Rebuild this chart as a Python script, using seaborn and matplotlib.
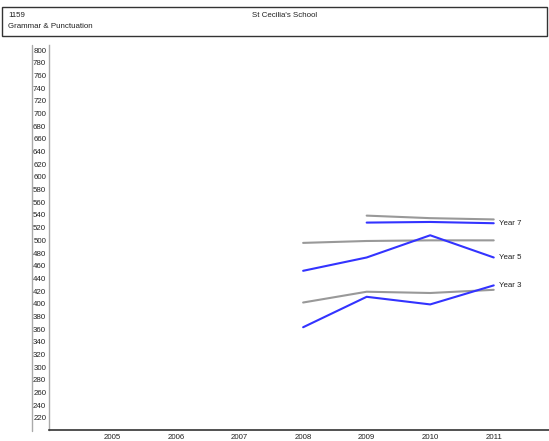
import matplotlib.pyplot as plt
import matplotlib.lines as mlines
import matplotlib.patches as mpatches
import pandas as pd
import seaborn as sns

# values
years = [2008, 2009, 2010, 2011]
school_y3 = [363, 411, 399, 429]
school_y5 = [452, 473, 508, 473]
school_y7 = [None, 528, 529, 527]
state_y3 = [402, 419, 417, 422]
state_y5 = [496, 499, 500, 500]
state_y7 = [None, 539, 535, 533]
labels = ['Year 3', 'Year 5', 'Year 7']
xticks = [2005, 2006, 2007, 2008, 2009, 2010, 2011]
yticks = list(range(220, 801, 20))

rows = []
for name, vals, kind in [('s3', school_y3, 'school'), ('s5', school_y5, 'school'), ('s7', school_y7, 'school'),
                         ('g3', state_y3, 'state'), ('g5', state_y5, 'state'), ('g7', state_y7, 'state')]:
    for yr, v in zip(years, vals):
        if v is not None:
            rows.append({'year': yr, 'score': v, 'series': name, 'kind': kind})
df = pd.DataFrame(rows)

sns.set_style('white')
plt.rcParams['font.family'] = ['Liberation Sans', 'DejaVu Sans']

fig = plt.figure(figsize=(5.49, 4.41), dpi=100)
ax = fig.add_axes([49 / 549, 11 / 441, 500 / 549, 385 / 441])

pal = {'s3': '#3333ff', 's5': '#3333ff', 's7': '#3333ff',
       'g3': '#999999', 'g5': '#999999', 'g7': '#999999'}
order = ['g3', 'g5', 'g7', 's3', 's5', 's7']
sns.lineplot(data=df, x='year', y='score', hue='series', hue_order=order,
             palette=pal, linewidth=1.5, legend=False, ax=ax)

# labels at the end of the school lines
for lab, vals in zip(labels, [school_y3, school_y5, school_y7]):
    ax.text(years[-1] + 0.08, vals[-1], lab, fontsize=5.7, va='center', ha='left', color='#222222')

ax.set_xlim(2004, 2011.87)
ax.set_ylim(201, 808)
ax.set_xticks(xticks)
ax.set_yticks(yticks)
ax.set_xlabel('')
ax.set_ylabel('')
ax.tick_params(axis='both', labelsize=5.7, colors='#222222')
ax.tick_params(axis='x', length=2, width=0.6, pad=1, direction='out', color='#555555')
ax.tick_params(axis='y', length=0, pad=2)
for s in ['top', 'right']:
    ax.spines[s].set_visible(False)
ax.spines['left'].set_color('#aaaaaa')
ax.spines['left'].set_linewidth(1)
ax.spines['bottom'].set_color('#333333')
ax.spines['bottom'].set_linewidth(1.2)

# outer line of the tick label gutter
fig.add_artist(mlines.Line2D([32 / 549, 32 / 549], [10 / 441, 396 / 441], color='#aaaaaa', lw=1))

# header box
fig.add_artist(mpatches.Rectangle((2 / 549, 405 / 441), 545 / 549, 29 / 441, fill=False,
                                  edgecolor='#333333', lw=1))
fig.text(8 / 549, 425.5 / 441, '1159', fontsize=5.7, va='center', color='#222222')
fig.text(8 / 549, 414.5 / 441, 'Grammar & Punctuation', fontsize=5.7, va='center', color='#222222')
fig.text(285 / 549, 425.5 / 441, "St Cecilia's School", fontsize=5.7, va='center', ha='center', color='#222222')

fig.savefig('out.png', dpi=100)
